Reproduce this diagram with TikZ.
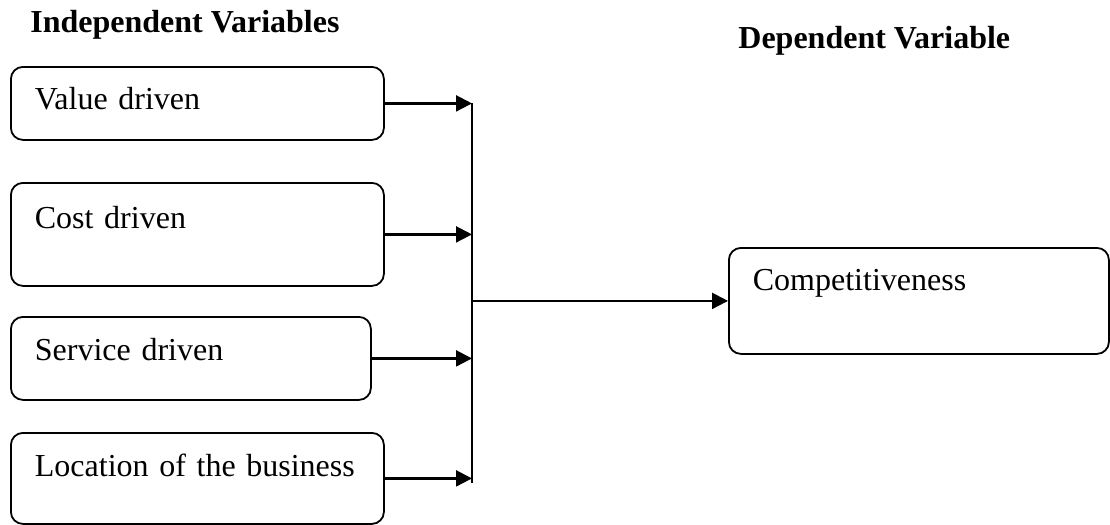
\documentclass[tikz,border=0pt]{standalone}
\usepackage{fontspec}
\setmainfont{Liberation Serif}
\usetikzlibrary{arrows.meta}

\tikzset{
    varbox/.style={draw, rounded corners=6pt, line width=0.9pt, anchor=north west, inner xsep=12pt, inner ysep=0pt, font=\fontsize{16}{19}\selectfont},
    feed/.style={-{Triangle[length=8pt, width=8pt]}, line width=1.1pt},
    heading/.style={anchor=base west, inner sep=0pt, font=\fontsize{16}{19}\selectfont\bfseries}
}

\begin{document}
\begin{tikzpicture}[x=0.5pt, y=-0.5pt]
    \useasboundingbox (0,0) rectangle (1110,525);
    \node[heading] (indep) at (30,32) {Independent Variables};
    \node[heading] (dep) at (738,48) {Dependent Variable};

    \node[varbox, text width=162.5pt, text height=21.5pt, text depth=15pt] (value) at (10,66) {Value driven};
    \node[varbox, text width=162.5pt, text height=23pt, text depth=28.5pt] (cost) at (10,182) {Cost driven};
    \node[varbox, text width=156pt, text height=22pt, text depth=19.5pt] (service) at (10,316) {Service driven};
    \node[varbox, text width=162.5pt, text height=22pt, text depth=23.5pt] (location) at (10,432) {Location of the business};
    \node[varbox, text width=166pt, text height=21.5pt, text depth=31.5pt] (comp) at (728,247) {Competitiveness};

    \coordinate (bustop) at (472,103);
    \coordinate (busbot) at (472,483);
    \draw[line width=1.1pt] (bustop) -- (busbot);
    \foreach \v in {value, cost, service, location}
        \draw[feed] (\v.east) -- (\v.east -| bustop);
    \draw[feed] (bustop |- comp.west) -- (comp.west);
\end{tikzpicture}
\end{document}
